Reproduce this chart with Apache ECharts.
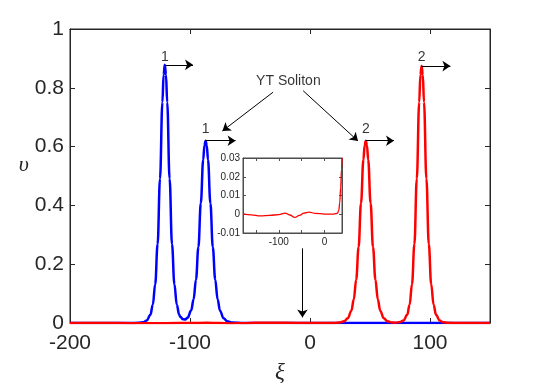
<!DOCTYPE html>
<html>
<head>
<meta charset="utf-8">
<script src="https://cdn.jsdelivr.net/npm/echarts@6/dist/echarts.min.js"></script>
<style>
  html, body { margin: 0; padding: 0; background: #fff; }
  #main { width: 545px; height: 383px; }
</style>
</head>
<body>
<div id="main"></div>
<script>
// tick labels
var xTicks = [-200, -100, 0, 100];
var yTicks = [0, 0.2, 0.4, 0.6, 0.8, 1];
var insetXTicks = [-150, -100, -50, 0];
var insetXLabels = [-100, 0];
var insetYTicks = [-0.01, 0, 0.01, 0.02, 0.03];

// blue profile (xi, v)
var blueXi = [-200, -160, -150, -143, -139, -136, -133, -131, -129, -127, -125, -123, -122, -121,
  -120, -119, -117, -115, -113, -111, -109, -108, -106, -104, -102, -99, -97, -95, -93, -91, -89,
  -88, -87, -86, -85, -83, -81, -79, -77, -75, -72, -69, -65, -55, -40, 0, 150];
var blueV = [0, 0, 0.0001, 0.0005, 0.0026, 0.0087, 0.028, 0.062, 0.132, 0.268, 0.491, 0.751, 0.844, 0.878,
  0.844, 0.751, 0.491, 0.268, 0.132, 0.062, 0.028, 0.021, 0.013, 0.012, 0.018, 0.043, 0.081, 0.148, 0.258, 0.407, 0.555,
  0.603, 0.62, 0.603, 0.555, 0.407, 0.258, 0.148, 0.081, 0.042, 0.016, 0.0058, 0.0015, 0.0002, 0, 0, 0];

// red profile (xi, v)
var redXi = [-200, -178, -160, -140, -120, -100, -86, -76, -65, -55, -45, -34, -20, 0, 15, 20,
  24.5, 28.5, 31.5, 34.5, 36.5, 38.5, 40.5, 42.5, 44.5, 45.5, 46.5, 47.5, 48.5, 50.5, 52.5, 54.5,
  56.5, 58.5, 61.5, 64.5, 68.5, 71, 75, 78, 81, 83, 85, 87, 89, 91, 92, 93,
  94, 95, 97, 99, 101, 103, 105, 108, 111, 115, 125, 150];
var redV = [0.0002, 0.0002, -0.0003, -0.0009, -0.0006, -0.0002, 0.0006, -0.0004, -0.0017, -0.0006, 0.0006, 0.0011, 0.0005, 0.0001, 0.0001, 0.0003,
  0.0015, 0.0058, 0.016, 0.042, 0.081, 0.148, 0.258, 0.407, 0.555, 0.603, 0.62, 0.603, 0.555, 0.407, 0.258, 0.148,
  0.081, 0.042, 0.016, 0.0059, 0.0017, 0.0012, 0.003, 0.0087, 0.028, 0.062, 0.132, 0.268, 0.491, 0.751, 0.844, 0.874,
  0.844, 0.751, 0.491, 0.268, 0.132, 0.062, 0.028, 0.0087, 0.0026, 0.0005, 0, 0];

// inset: red near-zero tail
var insetXi = [-178, -160, -140, -120, -100, -86, -76, -65, -55, -45, -34, -20, 0, 20, 28, 31, 33, 35, 37, 38];
var insetV = [0.0002, -0.0003, -0.0009, -0.0006, -0.0002, 0.0006, -0.0004, -0.0017, -0.0006, 0.0006, 0.0011, 0.0005,
  0.0001, 0.0001, 0.0005, 0.002, 0.006, 0.014, 0.024, 0.03];

// annotation texts and arrows in data coordinates
var noteText = ['1', '1', '2', '2', 'YT Soliton'];
var noteXi = [-121, -87, 46.5, 93, -18];
var noteV = [0.905, 0.66, 0.66, 0.905, 0.821];
var arrowFrom = [[-121, 0.878], [-87, 0.62], [46.5, 0.62], [93, 0.874], [-30.8, 0.785], [-5.7, 0.79], [-6.3, 0.254]];
var arrowTo = [[-97.5, 0.878], [-62, 0.62], [70, 0.62], [117, 0.874], [-73, 0.653], [40, 0.619], [-6.3, 0.019]];

function zip(a, b) {
  return a.map(function (x, i) { return [x, b[i]]; });
}

var axisColor = '#262626';
var insetColor = '#4d4d4d';
var font = 'Liberation Sans, Arial, Helvetica, sans-serif';

// one side of a box; labels only when given
function makeAxis(grid, min, max, pos, ticks, len, color, labels, labelOpt) {
  var ax = {
    gridIndex: grid, type: 'value', min: min, max: max, position: pos,
    axisLine: { show: true, onZero: false, lineStyle: { color: color, width: 1 } },
    axisTick: { show: true, inside: true, length: len, customValues: ticks, lineStyle: { color: color, width: 1 } },
    axisLabel: { show: false },
    splitLine: { show: false }
  };
  if (labels) {
    ax.axisLabel = Object.assign({ show: true, customValues: labels, color: axisColor, fontFamily: font }, labelOpt);
  }
  return ax;
}

var mainX = makeAxis(0, -200, 150, 'bottom', xTicks, 5, axisColor, xTicks, { fontSize: 21, margin: 10 });
mainX.name = 'ξ';
mainX.nameLocation = 'middle';
mainX.nameGap = 38;
mainX.nameTextStyle = { fontFamily: 'Liberation Serif, DejaVu Serif, serif', fontStyle: 'italic', fontSize: 23, color: axisColor };

var mainY = makeAxis(0, 0, 1, 'left', yTicks, 5, axisColor, yTicks, { fontSize: 21, margin: 6 });
mainY.name = 'υ';
mainY.nameLocation = 'middle';
mainY.nameRotate = 0;
mainY.nameGap = 24;
mainY.nameTextStyle = { fontFamily: 'Liberation Serif, DejaVu Serif, serif', fontStyle: 'italic', fontSize: 22, color: axisColor, verticalAlign: 'bottom' };

var myChart = echarts.init(document.getElementById('main'));

myChart.setOption({
  animation: false,
  grid: [
    { left: 70, right: 55, top: 29, bottom: 60, show: true, borderColor: axisColor, borderWidth: 1, outerBoundsMode: 'none' },
    { left: 243, top: 158, width: 99, height: 75, show: true, borderColor: insetColor, borderWidth: 1, backgroundColor: '#fff', outerBoundsMode: 'none' }
  ],
  xAxis: [
    mainX,
    makeAxis(0, -200, 150, 'top', xTicks, 5, axisColor),
    makeAxis(1, -178, 38, 'bottom', insetXTicks, 3, insetColor, insetXLabels, { fontSize: 10, margin: 4 }),
    makeAxis(1, -178, 38, 'top', insetXTicks, 3, insetColor)
  ],
  yAxis: [
    mainY,
    makeAxis(0, 0, 1, 'right', yTicks, 5, axisColor),
    makeAxis(1, -0.01, 0.03, 'left', insetYTicks, 3, insetColor, insetYTicks, { fontSize: 10, margin: 3 }),
    makeAxis(1, -0.01, 0.03, 'right', insetYTicks, 3, insetColor)
  ],
  series: [
    {
      name: 'blue', type: 'line', xAxisIndex: 0, yAxisIndex: 0,
      data: zip(blueXi, blueV), showSymbol: false, smooth: 0.4, smoothMonotone: 'x',
      lineStyle: { color: '#0000ff', width: 2.5 }
    },
    {
      name: 'red', type: 'line', xAxisIndex: 0, yAxisIndex: 0,
      data: zip(redXi, redV), showSymbol: false, smooth: 0.4, smoothMonotone: 'x',
      lineStyle: { color: '#ff0000', width: 2.5 }
    },
    {
      name: 'inset', type: 'line', xAxisIndex: 2, yAxisIndex: 2,
      data: zip(insetXi, insetV), showSymbol: false, smooth: 0.4, smoothMonotone: 'x',
      lineStyle: { color: '#ff0000', width: 1.3 }
    },
    {
      name: 'notes', type: 'scatter', xAxisIndex: 0, yAxisIndex: 0,
      symbolSize: 0, silent: true,
      data: noteText.map(function (t, i) {
        return {
          value: [noteXi[i], noteV[i]],
          label: {
            show: true, position: 'inside', formatter: t,
            fontSize: 14, color: '#000', fontFamily: font
          }
        };
      }),
      markLine: {
        silent: true, animation: false,
        symbol: ['none', 'arrow'], symbolSize: 8,
        lineStyle: { color: '#000', width: 1, type: 'solid' },
        label: { show: false },
        emphasis: { disabled: true },
        data: arrowFrom.map(function (p, i) {
          return [{ coord: p }, { coord: arrowTo[i] }];
        })
      }
    }
  ]
});
</script>
</body>
</html>
